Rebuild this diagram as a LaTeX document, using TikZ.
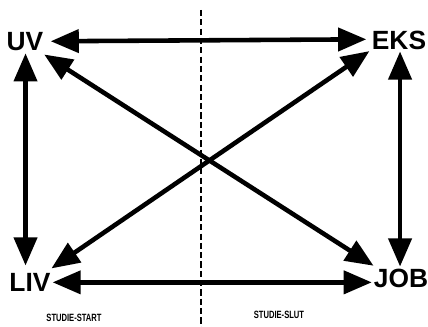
\documentclass[tikz,border=0pt]{standalone}
\usepackage{fontspec}
\setmainfont{Liberation Sans}
\usepackage{tikz}
\usetikzlibrary{arrows.meta}

\tikzset{
    corner/.style={font=\fontsize{15}{15}\selectfont\bfseries, inner sep=1pt},
    phase/.style={font=\fontsize{6}{6}\selectfont\bfseries, inner sep=0pt},
    link/.style={{Triangle[length=16pt,width=13pt]}-{Triangle[length=16pt,width=13pt]}, line width=2.6pt}
}

\begin{document}
\begin{tikzpicture}[scale=0.2]
    \useasboundingbox (0,0) rectangle (42.8,32.7);

    % ===== Divider between start and end of study =====
    \draw[line width=1.5pt, dash pattern=on 3.5pt off 1.8pt] (20.1,31.7) -- (20.1,0);

    % ===== Corners =====
    \node[corner] (UV)  at (2.5,28.5)  {UV};
    \node[corner] (EKS) at (39.9,28.7) {EKS};
    \node[corner] (LIV) at (3.0,4.5)   {LIV};
    \node[corner] (JOB) at (40.1,4.9)  {JOB};

    % ===== Arrows =====
    % top and bottom
    \draw[link, shorten <=3pt, shorten >=2pt] ([yshift=2pt]UV.east) -- ([yshift=2pt]EKS.west);
    \draw[link] ([yshift=-1pt]LIV.east) -- ([yshift=-1pt]LIV.east -| JOB.west);
    % sides
    \draw[link, shorten >=3pt] ([xshift=1.5pt]UV.south) -- ([xshift=1.5pt]UV.south |- LIV.north);
    \draw[link] ([xshift=3pt]EKS.south) -- ([xshift=3pt]EKS.south |- JOB.north);
    % diagonals
    \draw[link] ([xshift=-3.4pt,yshift=-3.4pt]UV.south east) -- ([xshift=5pt,yshift=2.3pt]JOB.north west);
    \draw[link] ([xshift=-3.4pt,yshift=6.8pt]LIV.north east) -- ([xshift=-1pt,yshift=1pt]EKS.south west);

    % ===== Phase labels =====
    \node[phase] (start) at (7.4,0.9)  {\scalebox{0.72}[1]{STUDIE-START}};
    \node[phase] (slut)  at (27.9,1.2) {\scalebox{0.72}[1]{STUDIE-SLUT}};
\end{tikzpicture}
\end{document}
